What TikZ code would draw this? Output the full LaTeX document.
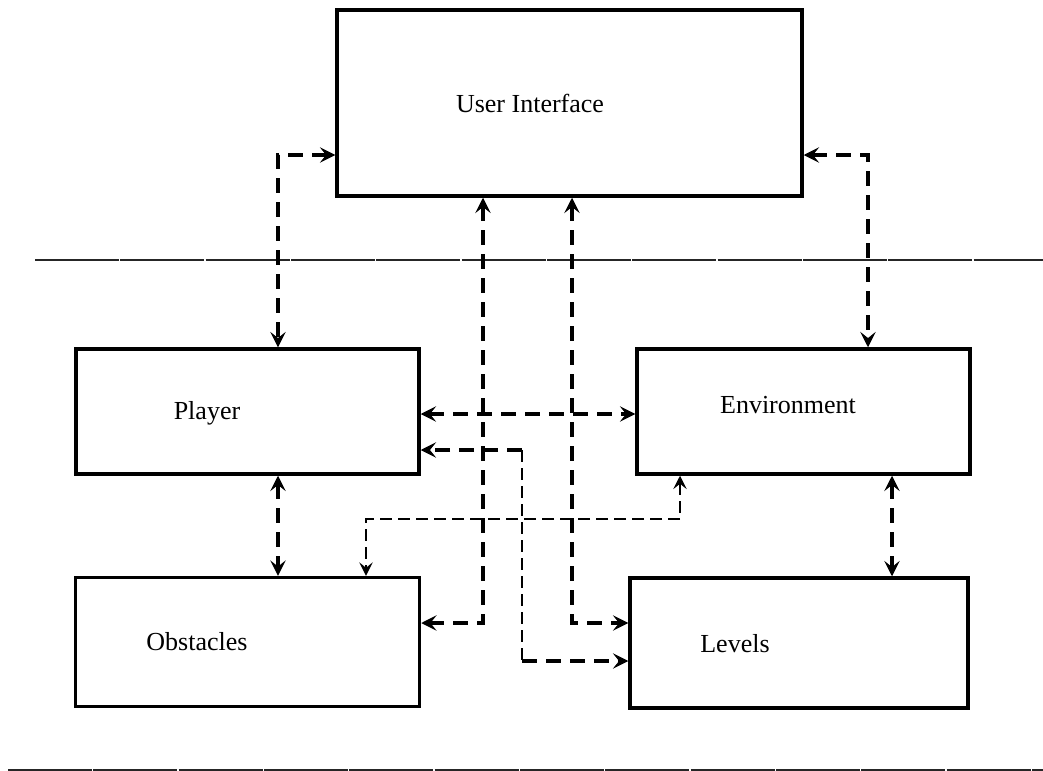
\documentclass[tikz,border=0pt]{standalone}
\usepackage{fontspec}
\setmainfont{Liberation Serif}
\usetikzlibrary{arrows.meta}
\begin{document}
\begin{tikzpicture}[x=0.75pt,y=-0.75pt,
  box/.style={draw, line width=2.6pt, inner sep=0pt},
  lbl/.style={font=\fontsize{19.5}{22}\selectfont, inner sep=0pt},
  dline/.style={line width=2.6pt, dash pattern=on 11pt off 7pt},
  tline/.style={line width=1.4pt, dash pattern=on 9pt off 4.5pt},
  tip/.tip={Stealth[length=11.5pt,width=11.5pt,inset=4.6pt]},
  ttip/.tip={Stealth[length=10pt,width=10pt,inset=4pt]},
  conn/.style={dline, tip-tip},
  tconn/.style={tline, ttip-ttip},
  hline/.style={line width=1.2pt, black!85, dash pattern=on 63pt off 1pt}]
\useasboundingbox (0,0) rectangle (1043,771);

% blocks
\node[box, minimum width=348.75pt, minimum height=139.5pt] (ui) at (569.5,103) {};
\node[box, minimum width=257.25pt, minimum height=93.75pt] (pl) at (247.5,411.5) {};
\node[box, minimum width=249.75pt, minimum height=93.75pt] (en) at (803.5,411.5) {};
\node[box, minimum width=258pt, minimum height=96.75pt] (ob) at (247.5,642) {};
\node[box, minimum width=253.5pt, minimum height=97.5pt] (lv) at (799,643) {};

% block titles
\node[lbl] (tui) at (530,103) {User Interface};
\node[lbl] (tpl) at (207,413) {Player};
\node[lbl] (ten) at (788,405) {Environment};
\node[lbl] (tob) at (197,642) {Obstacles};
\node[lbl] (tlv) at (735,644) {Levels};

% separator rules
\draw[hline] (35,260) -- (1043,260);
\draw[hline] (8,770) -- (1043,770);

% links from the user interface
\draw[conn] (ui.west |- 0,155) -| (pl.north -| 278,0);
\draw[conn] (ui.east |- 0,155) -| (en.north -| 868,0);
\draw[conn] (ui.south -| 483,0) |- (ob.east |- 0,623);
\draw[conn] (ui.south -| 572,0) |- (lv.west |- 0,623);

% links between the game parts
\draw[conn] (pl.east |- 0,414) -- (en.west |- 0,414);
\draw[conn] (pl.south -| 278,0) -- (ob.north -| 278,0);
\draw[conn] (en.south -| 892,0) -- (lv.north -| 892,0);
\draw[tconn] (en.south -| 680,0) |- (366,519) -- (ob.north -| 366,0);

% player to levels link
\coordinate (k1) at (522,450);
\coordinate (k2) at (522,661);
\draw[dline, -tip] (k1) -- (pl.east |- k1);
\draw[tline] (k1) -- (k2);
\draw[dline, -tip] (k2) -- (lv.west |- k2);
\end{tikzpicture}
\end{document}
